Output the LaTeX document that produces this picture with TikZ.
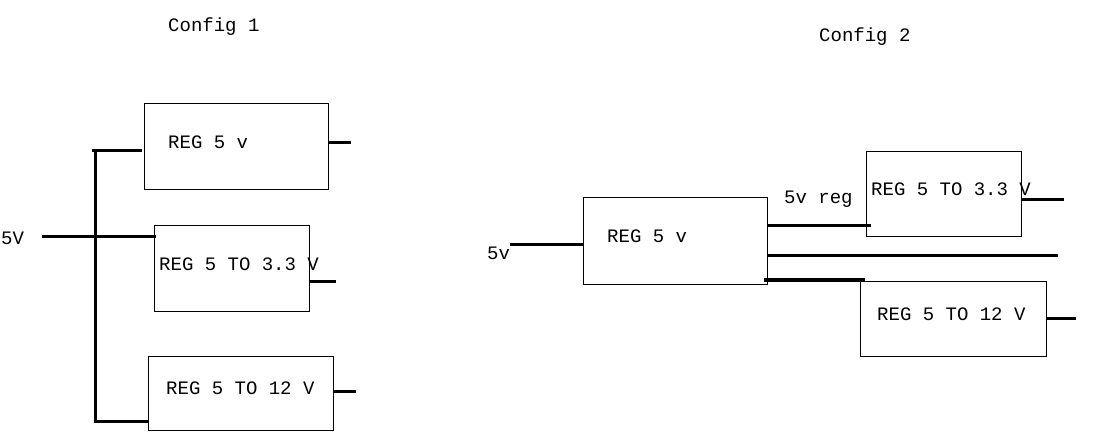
\documentclass[tikz,border=0pt]{standalone}
\usepackage{fontspec}
\setmainfont{Liberation Mono}
\begin{document}
\begin{tikzpicture}[x=1pt,y=-1pt,
  box/.style={draw, line width=1pt, inner sep=0pt, outer sep=0pt, anchor=north west},
  lbl/.style={anchor=base west, inner sep=0pt, font=\fontsize{19}{22}\selectfont},
  wire/.style={line width=3pt}]
\useasboundingbox (0,0) rectangle (1097,438);
% ---------- Config 1 ----------
\node[lbl] (t1) at (168,32) {Config 1};
\node[box, minimum width=184pt, minimum height=86pt] (a1) at (144,104) {};
\node[box, minimum width=155pt, minimum height=85pt] (b1) at (154,226) {};
\node[box, minimum width=185pt, minimum height=74pt] (c1) at (148,356) {};
\node[lbl] (ta1) at (168,149) {REG 5 v};
\node[lbl] (tb1) at (159,270) {REG 5 TO 3.3 V};
\node[lbl] (tc1) at (166,394) {REG 5 TO 12 V};
\node[lbl] (in1) at (1,245) {5V};
\coordinate (busT) at (92,151);
\coordinate (busTe) at (142,151);
\coordinate (busV) at (95.5,149);
\coordinate (busB) at (95.5,421);
\coordinate (busBe) at (148,421);
\coordinate (inS) at (42,237);
\coordinate (inE) at (156,237);
\coordinate (oa1) at (351,143);
\coordinate (ob1) at (336,281);
\coordinate (oc1) at (356,391);
\draw[wire] (busT) -- (busTe);
\draw[wire] (busV) -- (busB) -- (busBe);
\draw[wire] (inS) -- (inE);
\draw[wire] (a1.east |- oa1) -- (oa1);
\draw[wire] (b1.east |- ob1) -- (ob1);
\draw[wire] (c1.east |- oc1) -- (oc1);
% ---------- Config 2 ----------
\node[lbl] (t2) at (819,42) {Config 2};
\node[box, minimum width=184pt, minimum height=86pt] (a2) at (583,198) {};
\node[box, minimum width=155pt, minimum height=85pt] (b2) at (866,152) {};
\node[box, minimum width=186pt, minimum height=75pt] (c2) at (860,281) {};
\node[lbl] (ta2) at (607,243) {REG 5 v};
\node[lbl] (tb2) at (871,196) {REG 5 TO 3.3 V};
\node[lbl] (tc2) at (877,320) {REG 5 TO 12 V};
\node[lbl] (in2) at (487,260) {5v};
\node[lbl] (reg) at (784,204) {5v reg};
\coordinate (in2s) at (510,245);
\coordinate (l1e) at (871,226);
\coordinate (l2e) at (1058,256);
\coordinate (l3s) at (764,280);
\coordinate (l3e) at (865,280);
\coordinate (ob2) at (1064,200);
\coordinate (oc2) at (1076,318);
\draw[wire] (in2s) -- (a2.west |- in2s);
\draw[wire] (a2.east |- l1e) -- (l1e);
\draw[wire] (a2.east |- l2e) -- (l2e);
\draw[wire] (l3s) -- (l3e);
\draw[wire] (b2.east |- ob2) -- (ob2);
\draw[wire] (c2.east |- oc2) -- (oc2);
\end{tikzpicture}
\end{document}
